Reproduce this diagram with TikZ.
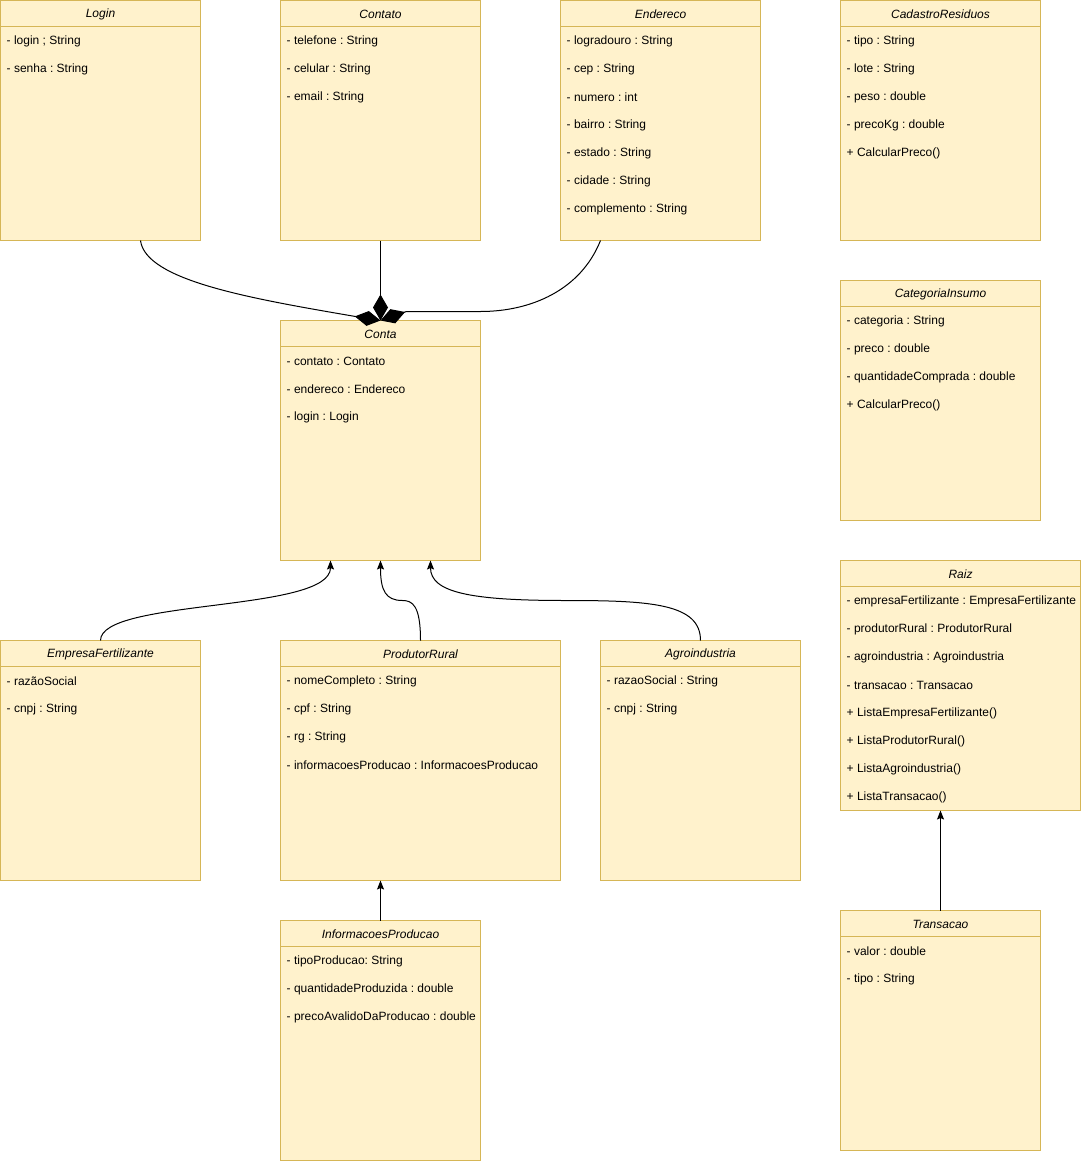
\documentclass[tikz,border=0pt]{standalone}
\usepackage{fontspec}
\setmainfont{Liberation Sans}
\usetikzlibrary{arrows.meta}
\definecolor{boxfill}{HTML}{FFF2CC}
\definecolor{boxline}{HTML}{D6B656}
\definecolor{txt}{HTML}{000000}
\tikzset{
  classbox/.style={draw=boxline, fill=boxfill, line width=1pt, inner sep=0pt, outer sep=0pt, rectangle},
  sepline/.style={draw=boxline, line width=1pt},
  titletext/.style={font=\fontsize{12pt}{14pt}\selectfont\frenchspacing\itshape, text=txt, inner sep=0pt},
  rowtext/.style={font=\fontsize{12pt}{14pt}\selectfont\frenchspacing, text=txt, inner sep=0pt, anchor=west},
  compo/.style={draw=black, line width=1pt, -{Diamond[length=26pt,width=15pt,fill=black]}},
  inherit/.style={draw=black, line width=1pt, -{Stealth[length=9pt,width=7pt,inset=1.5pt]}}
}
\newcommand\umlclass[7]{%
  \node[classbox, minimum width=#4pt, minimum height=#5pt, anchor=north west] (#1) at (#2,#3) {};
  \draw[sepline] ({#2},{#3+26}) -- ({#2+#4},{#3+26});
  \node[titletext] (#1-t) at ({#2+#4/2},{#3+14}) {#6};
  \foreach \r [count=\i] in {#7} {
    \node[rowtext] (#1-r\i) at ({#2+6},{#3+13+28*\i}) {\r};
  }
}
\begin{document}
\begin{tikzpicture}[x=1pt,y=-1pt]
\useasboundingbox (-0.5,-0.5) rectangle (1080.5,1163.5);
\umlclass{login}{0}{0}{200}{240}{Login}{{- login ; String},{- senha : String}}
\umlclass{contato}{280}{0}{200}{240}{Contato}{{- telefone : String},{- celular : String},{- email : String}}
\umlclass{endereco}{560}{0}{200}{240}{Endereco}{{- logradouro : String},{- cep : String},{- numero : int},{- bairro : String},{- estado : String},{- cidade : String},{- complemento : String}}
\umlclass{cadastro}{840}{0}{200}{240}{CadastroResiduos}{{- tipo : String},{- lote : String},{- peso : double},{- precoKg : double},{+ CalcularPreco()}}
\umlclass{categoria}{840}{280}{200}{240}{CategoriaInsumo}{{- categoria : String},{- preco : double},{- quantidadeComprada : double},{+ CalcularPreco()}}
\umlclass{conta}{280}{320}{200}{240}{Conta}{{- contato : Contato},{- endereco : Endereco},{- login : Login}}
\umlclass{raiz}{840}{560}{240}{250}{Raiz}{{- empresaFertilizante : EmpresaFertilizante},{- produtorRural : ProdutorRural},{- agroindustria : Agroindustria},{- transacao : Transacao},{+ ListaEmpresaFertilizante()},{+ ListaProdutorRural()},{+ ListaAgroindustria()},{+ ListaTransacao()}}
\umlclass{empresa}{0}{640}{200}{240}{EmpresaFertilizante}{{- razãoSocial},{- cnpj : String}}
\umlclass{produtor}{280}{640}{280}{240}{ProdutorRural}{{- nomeCompleto : String},{- cpf : String},{- rg : String},{- informacoesProducao : InformacoesProducao}}
\umlclass{agro}{600}{640}{200}{240}{Agroindustria}{{- razaoSocial : String},{- cnpj : String}}
\umlclass{info}{280}{920}{200}{240}{InformacoesProducao}{{- tipoProducao: String},{- quantidadeProduzida : double},{- precoAvalidoDaProducao : double}}
\umlclass{transacao}{840}{910}{200}{240}{Transacao}{{- valor : double},{- tipo : String}}

% composition connectors
\coordinate (lgA) at (355,316);
\coordinate (edA) at (406,311);
\draw[compo] ([xshift=40pt]login.south) .. controls (145,280) and (250,298) .. (lgA) -- (conta.north);
\draw[compo] (contato.south) -- (conta.north);
\draw[compo] ([xshift=-60pt]endereco.south) .. controls (580,290) and (530,311) .. (480,311) -- (edA) -- (conta.north);

% inheritance connectors
\coordinate (cEmp) at (330,560);
\coordinate (cProd) at (380,560);
\coordinate (cAgro) at (430,560);
\draw[inherit] (empresa.north) .. controls (100,598) and (330,612) .. (cEmp);
\draw[inherit] (produtor.north) .. controls (420,605) and (412,600) .. (402,600) .. controls (385,600) and (380,590) .. (cProd);
\draw[inherit] (agro.north) .. controls (700,603) and (650,600) .. (565,600) .. controls (470,600) and (430,592) .. (cAgro);
\draw[inherit] (info.north) -- (produtor.south west -| info.north);
\draw[inherit] (transacao.north) -- (raiz.south west -| transacao.north);
\end{tikzpicture}
\end{document}
